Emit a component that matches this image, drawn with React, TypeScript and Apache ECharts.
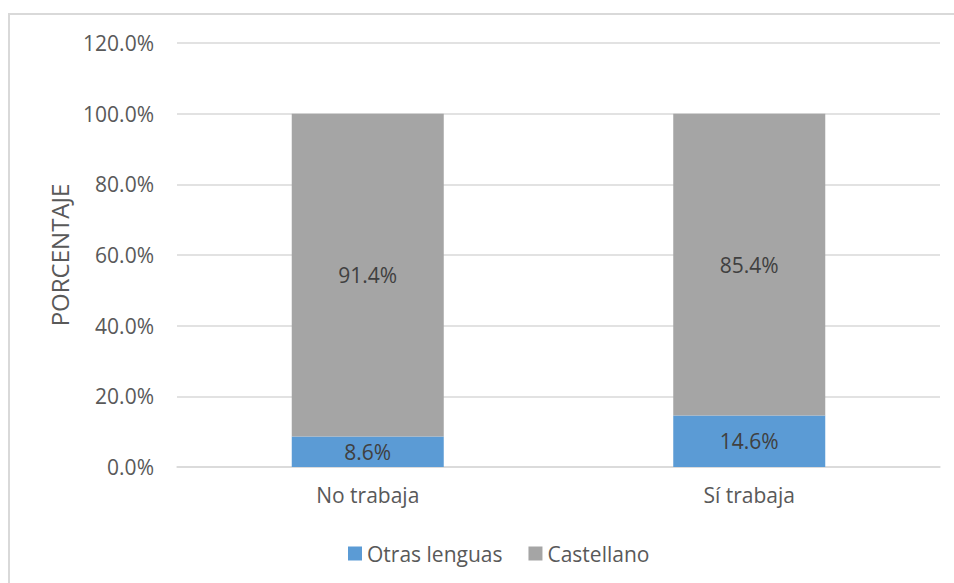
import React, { useEffect, useRef } from "react";
import * as echarts from "echarts";

const categories = ["No trabaja", "Sí trabaja"];
const otrasLenguas = [8.6, 14.6];
const castellano = [91.4, 85.4];
const seriesNames = ["Otras lenguas", "Castellano"];
const yAxisTitle = "PORCENTAJE";

const FONT = "'Open Sans', 'Noto Sans', sans-serif";

export default function App() {
  const ref = useRef<HTMLDivElement>(null);
  useEffect(() => {
    if (!ref.current) return;
    const chart = echarts.init(ref.current, undefined, { renderer: "svg" });
    const labelStyle = {
      show: true,
      position: "inside" as const,
      color: "#404040",
      fontSize: 21,
      fontFamily: FONT,
      formatter: (p: any) => p.value.toFixed(1) + "%",
    };
    chart.setOption({
      animation: false,
      backgroundColor: "#ffffff",
      textStyle: { fontFamily: FONT },
      graphic: [
        {
          type: "rect",
          shape: { x: 9, y: 14, width: 1200, height: 1000 },
          style: { fill: "none", stroke: "#D9D9D9", lineWidth: 2 },
          silent: true,
          z: -10,
        },
      ],
      grid: { left: 177, right: 14, top: 43, bottom: 116, containLabel: false },
      legend: {
        data: seriesNames,
        left: 343,
        top: 538,
        itemWidth: 14,
        itemHeight: 14,
        itemGap: 26,
        icon: "rect",
        textStyle: { color: "#595959", fontSize: 21, fontFamily: FONT },
      },
      xAxis: {
        type: "category",
        data: categories,
        axisLine: { show: true, lineStyle: { color: "#D9D9D9", width: 1.5 } },
        axisTick: { show: false },
        axisLabel: { color: "#595959", fontSize: 21, fontFamily: FONT, margin: 17 },
      },
      yAxis: {
        type: "value",
        min: 0,
        max: 120,
        interval: 20,
        name: yAxisTitle,
        nameLocation: "middle",
        nameGap: 106,
        nameRotate: 90,
        nameTextStyle: { color: "#595959", fontSize: 24, fontFamily: FONT },
        axisLine: { show: false },
        axisTick: { show: false },
        axisLabel: {
          color: "#595959",
          fontSize: 21,
          fontFamily: FONT,
          margin: 23,
          formatter: (v: number) => v.toFixed(1) + "%",
        },
        splitLine: { lineStyle: { color: "#D9D9D9", width: 1.5 } },
      },
      series: [
        {
          name: seriesNames[0],
          type: "bar",
          stack: "total",
          data: otrasLenguas,
          barWidth: 152,
          itemStyle: { color: "#5B9BD5" },
          label: labelStyle,
        },
        {
          name: seriesNames[1],
          type: "bar",
          stack: "total",
          data: castellano,
          barWidth: 152,
          itemStyle: { color: "#A5A5A5" },
          label: labelStyle,
        },
      ],
    });
    return () => chart.dispose();
  }, []);
  return (
    <div
      ref={ref}
      style={{ position: "absolute", left: 0, top: 0, width: 954, height: 583 }}
    />
  );
}
